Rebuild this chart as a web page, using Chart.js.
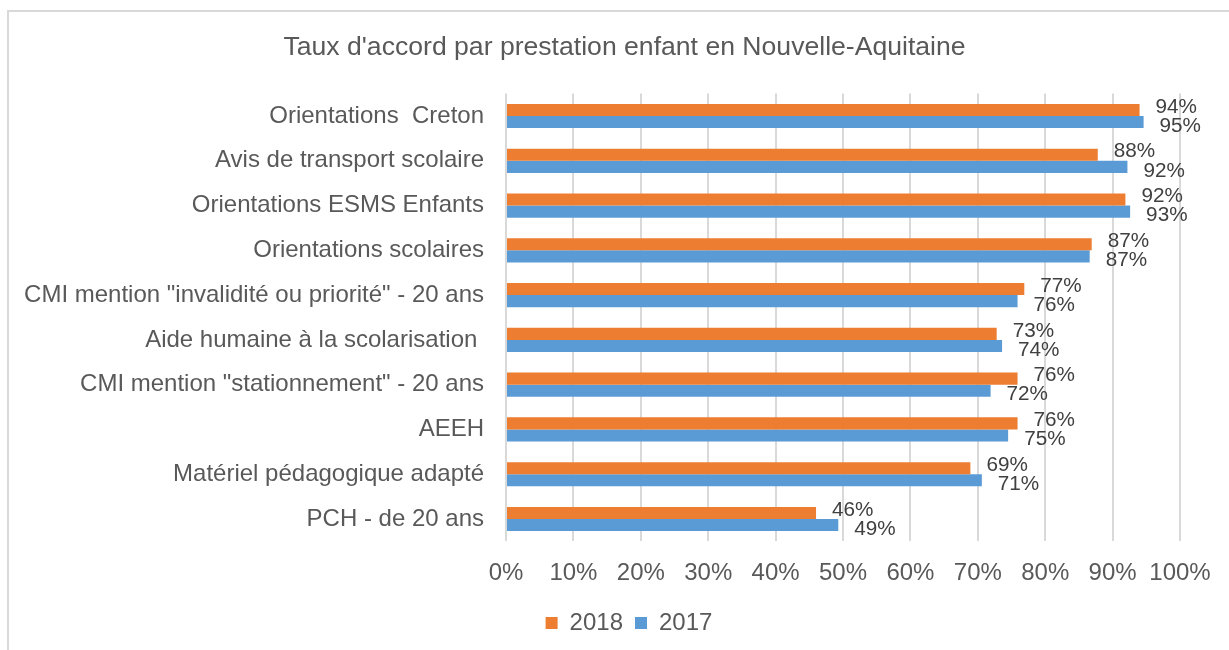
<!DOCTYPE html>
<html>
<head>
<meta charset="utf-8">
<script src="https://cdn.jsdelivr.net/npm/chart.js@4/dist/chart.umd.min.js"></script>
<style>
    body { margin: 0; background: #fff; overflow: hidden; }
    #wrap { position: relative; width: 1229px; height: 650px; }
    #frame { position: absolute; left: 7px; top: 10px; width: 1300px; height: 700px;
             border-left: 2px solid #d9d9d9; border-top: 2px solid #d9d9d9; }
    #chart { position: absolute; left: 0; top: 0; }
</style>
</head>
<body>
<div id="wrap">
    <div id="frame"></div>
    <canvas id="chart" width="1229" height="650"></canvas>
</div>
<script>
const categories = [
    'Orientations  Creton',
    'Avis de transport scolaire',
    'Orientations ESMS Enfants',
    'Orientations scolaires',
    'CMI mention "invalidité ou priorité" - 20 ans',
    'Aide humaine à la scolarisation ',
    'CMI mention "stationnement" - 20 ans',
    'AEEH',
    'Matériel pédagogique adapté',
    'PCH - de 20 ans'
];
const values2018 = [94.0, 87.8, 91.9, 86.9, 76.9, 72.8, 75.9, 75.9, 68.9, 46.0];
const values2017 = [94.6, 92.2, 92.6, 86.6, 75.9, 73.6, 71.9, 74.5, 70.6, 49.3];
const xTicks = [0, 10, 20, 30, 40, 50, 60, 70, 80, 90, 100];

const fontFamily = '"Liberation Sans", Arial, sans-serif';
const textGrey = '#595959';

// value labels at the end of each bar
const barLabels = {
    id: 'barLabels',
    afterDatasetsDraw(chart) {
        const ctx = chart.ctx;
        ctx.save();
        ctx.font = '20.7px ' + fontFamily;
        ctx.fillStyle = '#404040';
        ctx.textAlign = 'left';
        ctx.textBaseline = 'middle';
        chart.data.datasets.forEach((ds, i) => {
            const meta = chart.getDatasetMeta(i);
            const dy = i === 0 ? -3 : 4;
            meta.data.forEach((bar, j) => {
                ctx.fillText(Math.round(ds.data[j]) + '%', bar.x + 16, bar.y + dy);
            });
        });
        ctx.restore();
    }
};

// title and legend sit a bit right of the canvas centre in the original
const shiftBlocks = {
    id: 'shiftBlocks',
    afterLayout(chart) {
        chart.legend.left += 39;
        chart.legend.right += 39;
        chart.titleBlock.left += 34.5;
        chart.titleBlock.right += 34.5;
    }
};

new Chart(document.getElementById('chart'), {
    type: 'bar',
    data: {
        labels: categories,
        datasets: [
            { label: '2018', data: values2018, backgroundColor: '#ED7D31' },
            { label: '2017', data: values2017, backgroundColor: '#5B9BD5' }
        ]
    },
    options: {
        indexAxis: 'y',
        responsive: false,
        animation: false,
        datasets: { bar: { categoryPercentage: 0.54, barPercentage: 1 } },
        layout: { padding: { top: 10, left: 0, right: 49, bottom: 5 } },
        plugins: {
            title: {
                display: true,
                text: "Taux d'accord par prestation enfant en Nouvelle-Aquitaine",
                color: textGrey,
                font: { family: fontFamily, size: 26.6, weight: 'normal' },
                padding: { top: 21.4, bottom: 30.3 }
            },
            legend: {
                position: 'bottom',
                labels: {
                    color: textGrey,
                    font: { family: fontFamily, size: 24 },
                    boxWidth: 12,
                    boxHeight: 12,
                    padding: 12
                }
            },
            tooltip: { enabled: false }
        },
        scales: {
            x: {
                min: 0,
                max: 100,
                afterBuildTicks: scale => { scale.ticks = xTicks.map(v => ({ value: v })); },
                afterFit: scale => { scale.height = 57.6; },
                ticks: {
                    callback: v => v + '%',
                    color: textGrey,
                    font: { family: fontFamily, size: 24 },
                    padding: 17.2,
                    maxRotation: 0,
                    autoSkip: false
                },
                grid: { color: '#d9d9d9', lineWidth: 2, drawTicks: false },
                border: { display: false }
            },
            y: {
                afterFit: scale => { scale.width = 506; },
                ticks: {
                    color: textGrey,
                    font: { family: fontFamily, size: 24 },
                    padding: 22,
                    autoSkip: false
                },
                grid: { display: false, drawTicks: false },
                border: { display: false }
            }
        }
    },
    plugins: [barLabels, shiftBlocks]
});
</script>
</body>
</html>
